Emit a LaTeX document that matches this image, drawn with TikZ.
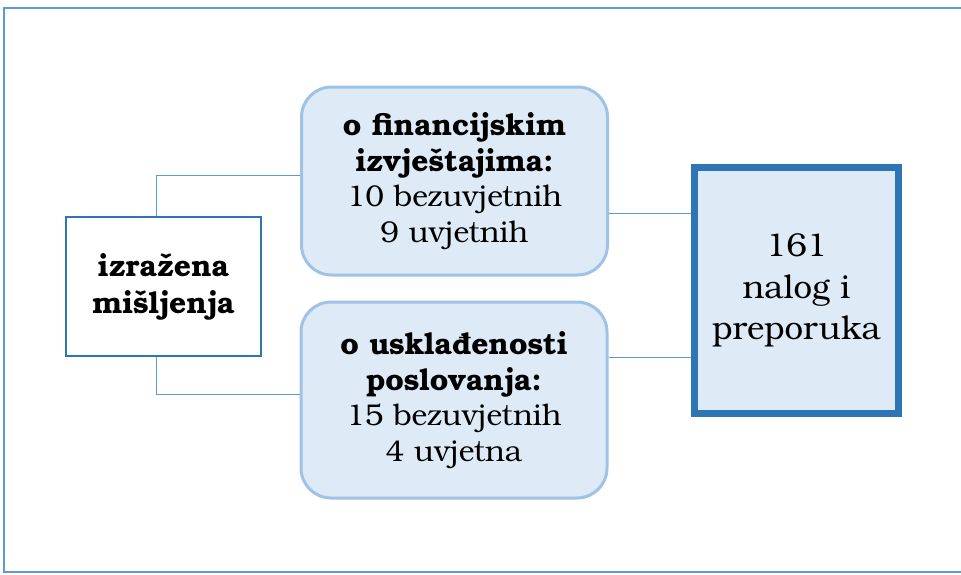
\documentclass[tikz,border=0pt]{standalone}
\usepackage{fontspec}
\setmainfont{texgyrebonum}[Extension=.otf, UprightFont=*-regular, BoldFont=*-bold, ItalicFont=*-italic, BoldItalicFont=*-bolditalic]
\usepackage{xcolor}
\usetikzlibrary{positioning,calc}
\definecolor{framecol}{HTML}{5B9BD5}
\definecolor{darkblue}{HTML}{2E75B6}
\definecolor{paleblue}{HTML}{DEEAF6}
\definecolor{softblue}{HTML}{9DC3E6}

\begin{document}
\begin{tikzpicture}[x=1pt, y=-1pt,
    opinion/.style={draw=darkblue, line width=2pt, fill=white, align=center,
        minimum width=195pt, minimum height=139pt, inner sep=0pt,
        font=\fontsize{30}{37}\selectfont\bfseries},
    kindbox/.style={draw=softblue, line width=3pt, fill=paleblue, rounded corners=30pt,
        align=center, minimum width=306pt, inner sep=0pt,
        font=\fontsize{30}{35.5}\selectfont},
    total/.style={draw=darkblue, line width=7pt, fill=paleblue, align=center,
        minimum width=204pt, minimum height=246pt, inner sep=0pt,
        font=\fontsize{33}{41.5}\selectfont},
    link/.style={draw=framecol, line width=1pt}]
    % Frame
    \useasboundingbox (0,0) rectangle (961,574);
    \draw[framecol, line width=2pt] (965,8) -- (4,8) -- (4,572) -- (965,572);

    % Boxes
    \node[opinion] (misljenja) at (163.5,286.5) {izražena\\mišljenja};
    \node[kindbox, minimum height=188pt] (financ) at (454.5,181)
        {\textbf{o financijskim}\\\textbf{izvještajima:}\\10 bezuvjetnih\\9 uvjetnih};
    \node[kindbox, minimum height=196pt] (uskladenost) at (454,400)
        {\textbf{o usklađenosti}\\\textbf{poslovanja:}\\15 bezuvjetnih\\4 uvjetna};
    \node[total] (preporuke) at (796.5,290.5) {161\\nalog i\\preporuka};

    % Links
    \draw[link] ([xshift=-7.5pt]misljenja.north) |- ([yshift=6pt]financ.west);
    \draw[link] ([xshift=-7.5pt]misljenja.south) |- ([yshift=6pt]uskladenost.west);
    \draw[link] ([yshift=-32pt]financ.east) coordinate (f1) -- (preporuke.west |- f1);
    \draw[link] ([yshift=43pt]uskladenost.east) coordinate (u1) -- (preporuke.west |- u1);
\end{tikzpicture}
\end{document}
